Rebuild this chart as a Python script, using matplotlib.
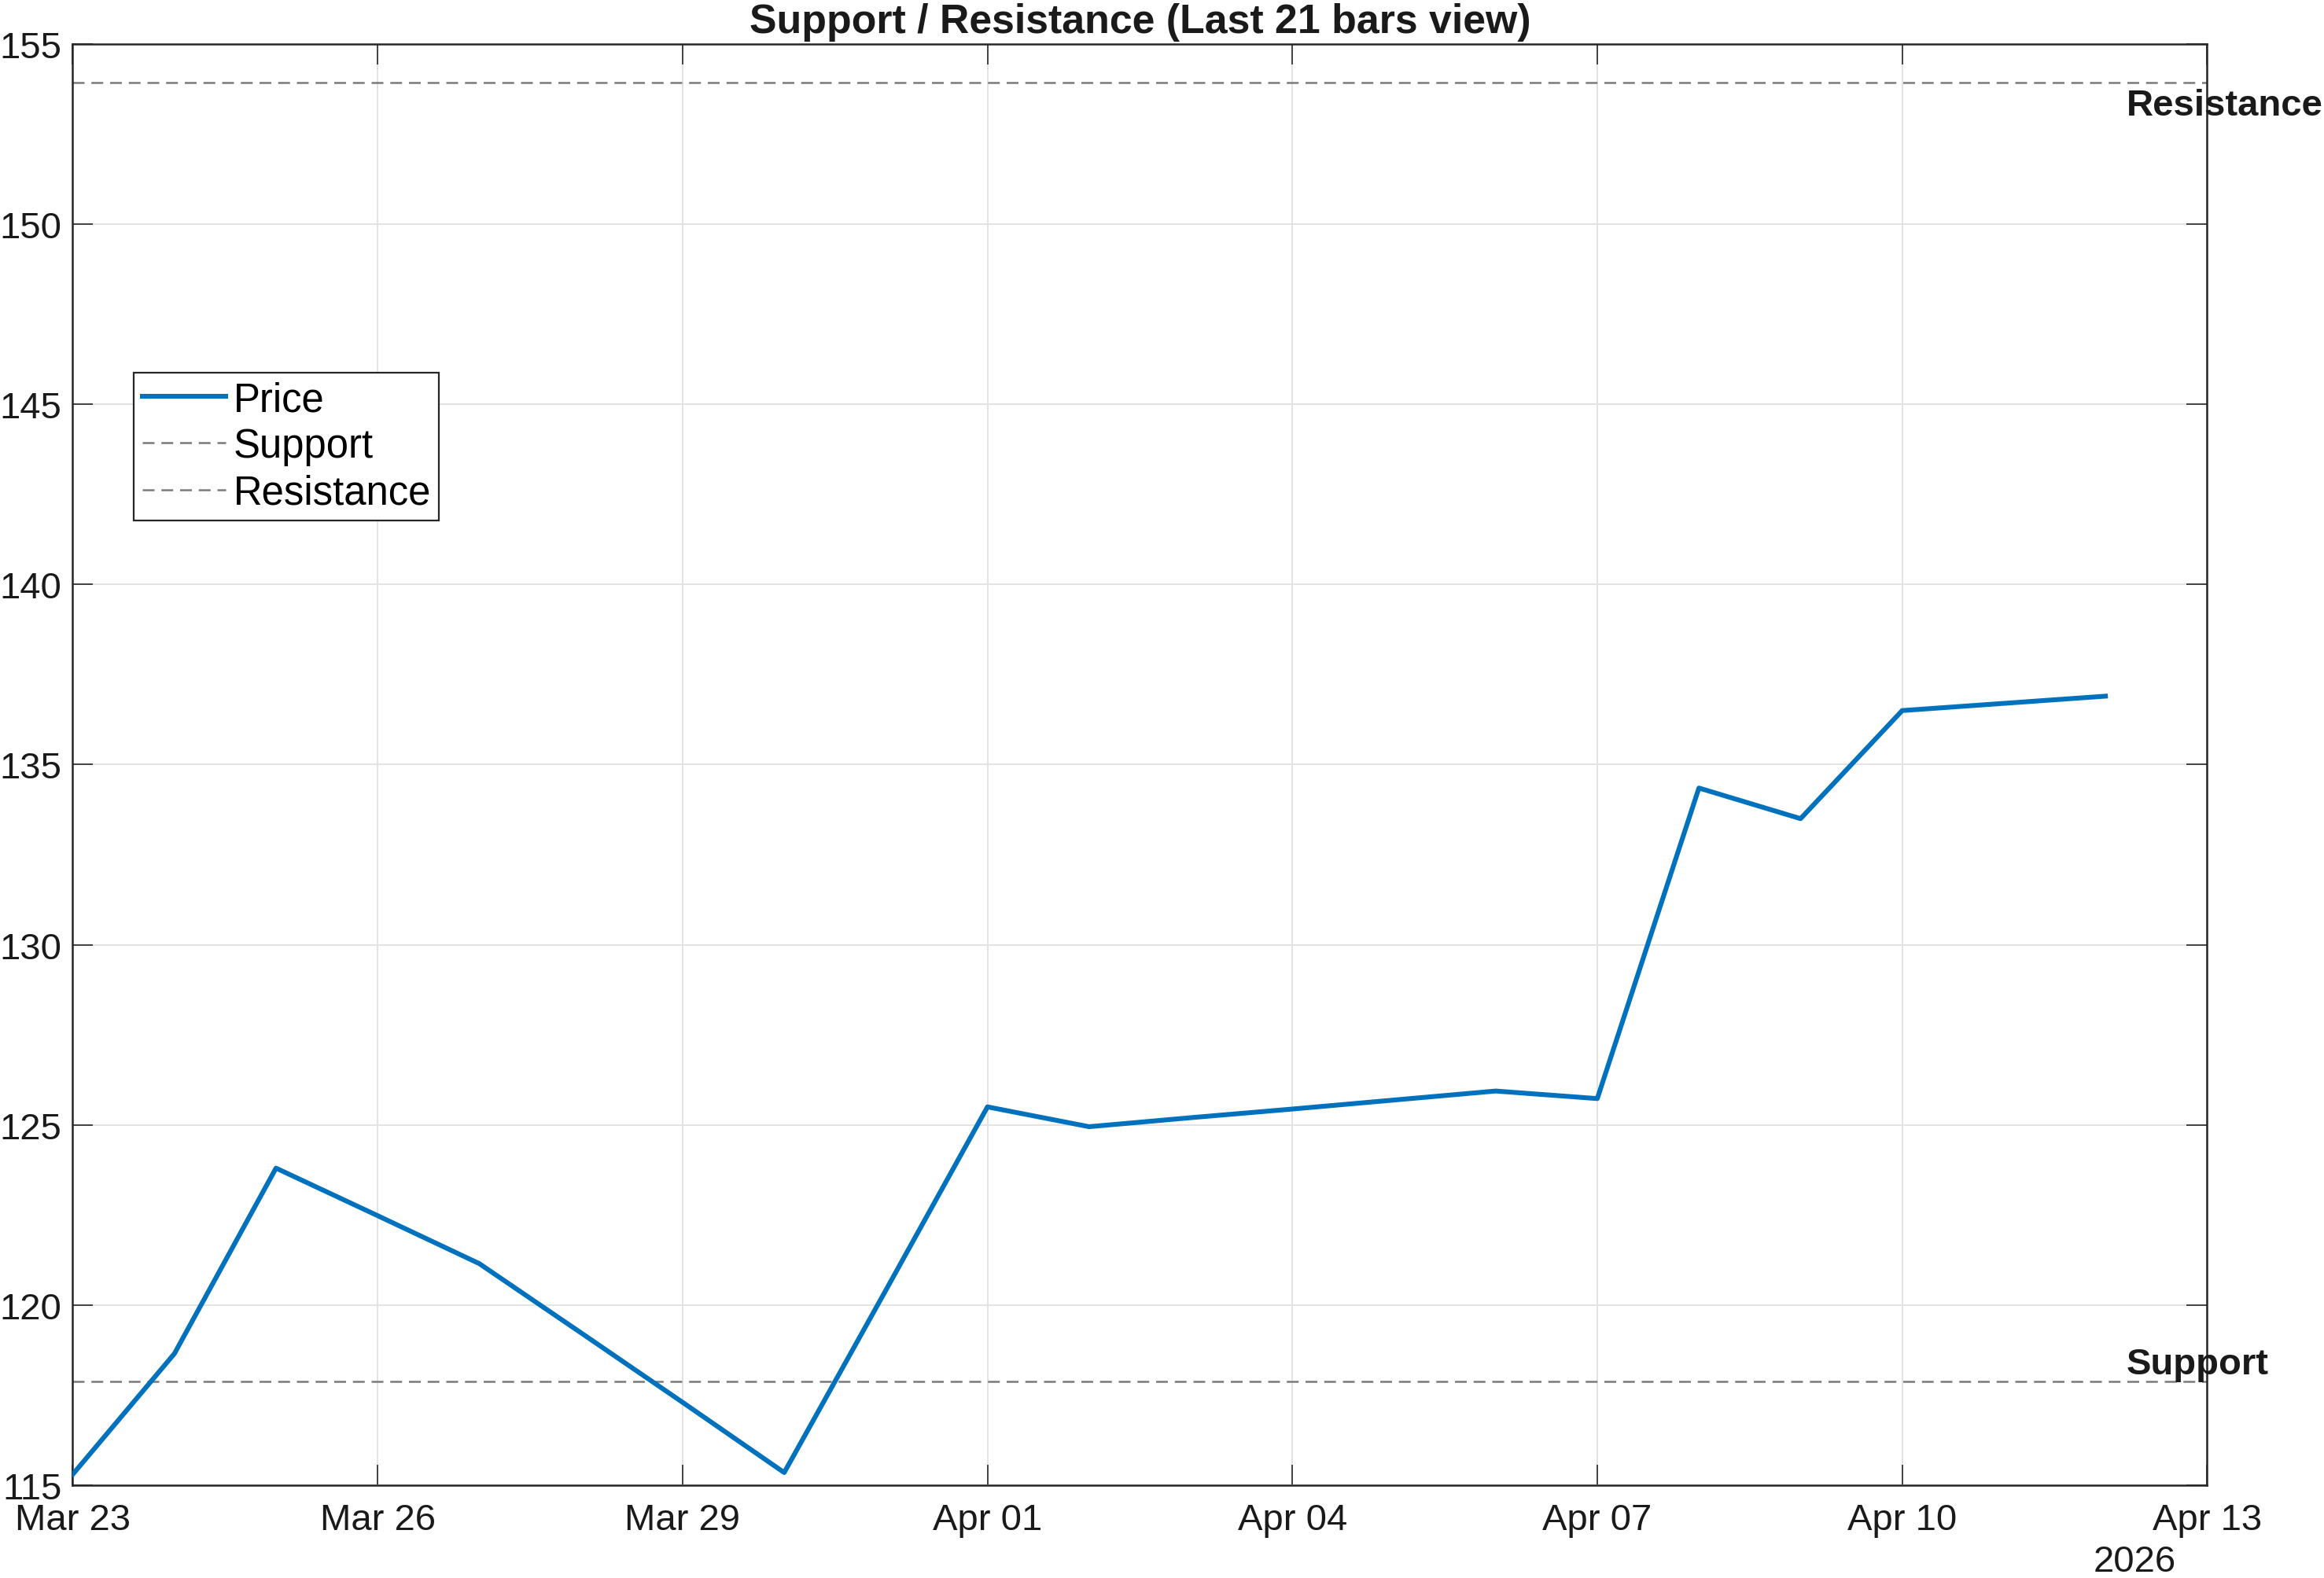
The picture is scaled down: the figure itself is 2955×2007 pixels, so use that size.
import matplotlib
matplotlib.use("Agg")
import matplotlib.pyplot as plt
import matplotlib.dates as mdates
import numpy as np
import pandas as pd

plt.rcParams['font.family'] = ['Liberation Sans', 'DejaVu Sans']

# ---- data ----
dates = pd.date_range("2026-03-23", "2026-04-12", freq="D")
price = [115.30, 118.65, 123.80, 122.48, 121.15, 119.23, 117.30, 115.35,
         120.41, 125.50, 124.95, 125.20, 125.44, 125.69, 125.94, 125.73,
         134.35, 133.50, 136.50, 136.70, 136.90]
support = 117.88
resistance = 153.93
title = "Support / Resistance (Last 21 bars view)"
x_start, x_end = pd.Timestamp("2026-03-23"), pd.Timestamp("2026-04-13")
y_ticks = [115, 120, 125, 130, 135, 140, 145, 150, 155]

DPI = 200
fig = plt.figure(figsize=(2955 / DPI, 2008 / DPI), dpi=DPI)
ax = fig.add_axes([0.0313, 0.0588, 0.9497 - 0.0313, 0.9716 - 0.0588])

dark = '#262626'
txt = '#1a1a1a'
ax.plot(dates, price, color='#0072BD', lw=2.2, label='Price', zorder=3)
ax.axhline(support, color='#7a7a7a', lw=0.9, ls=(0, (6, 3.5)), label='Support', zorder=2)
ax.axhline(resistance, color='#7a7a7a', lw=0.9, ls=(0, (6, 3.5)), label='Resistance', zorder=2)

ax.set_xlim(x_start, x_end)
ax.set_ylim(115, 155)
ax.set_yticks(y_ticks)
ax.set_xticks(pd.date_range(x_start, x_end, freq="3D"))
ax.xaxis.set_major_formatter(mdates.DateFormatter('%b %d'))

ax.grid(True, color='#e3e3e3', lw=0.7, zorder=0)
ax.set_axisbelow(True)
for s in ax.spines.values():
    s.set_color(dark)
    s.set_linewidth(0.9)
ax.tick_params(direction='in', length=9.5, width=0.6, color=dark,
               top=True, right=True, labelsize=17, labelcolor=txt)
ax.tick_params(axis='y', pad=5)
ax.tick_params(axis='x', pad=8)

ax.set_title(title, fontsize=18.7, fontweight='bold', color=txt, pad=5.5)

label_x = dates[-1] + pd.Timedelta(hours=5)
ax.text(label_x, support, "Support", fontsize=17, fontweight='bold', color=txt,
        ha='left', va='bottom', clip_on=False)
ax.text(label_x, resistance - 0.15, "Resistance", fontsize=17, fontweight='bold', color=txt,
        ha='left', va='top', clip_on=False)

ax.text(0.966, -0.041, "2026", transform=ax.transAxes, fontsize=17, color=txt,
        ha='center', va='top')

leg = ax.legend(loc='upper left', bbox_to_anchor=(0.0287, 0.772), fontsize=18.3,
                handlelength=2.1, handletextpad=0.18, borderpad=0.2, labelspacing=0.2,
                borderaxespad=0, fancybox=False, framealpha=1, edgecolor=dark)
leg.get_frame().set_linewidth(0.8)

fig.savefig("out.png", dpi=DPI)
